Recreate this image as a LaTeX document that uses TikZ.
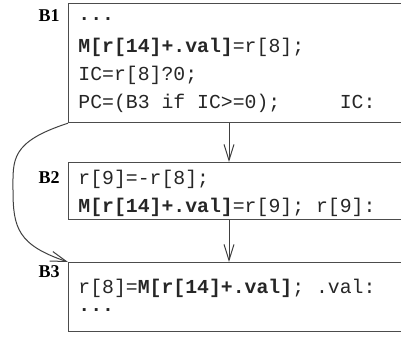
\documentclass[tikz,border=0pt]{standalone}
\usepackage{fontspec}
\setmainfont{Liberation Serif}
\setmonofont{Liberation Mono}
\usetikzlibrary{arrows.meta}
\begin{document}
\begin{tikzpicture}[x=0.5pt,y=-0.5pt,
  box/.style={draw=black!70, line width=0.6pt, inner sep=0pt, anchor=north west, minimum width=180pt},
  code/.style={font=\ttfamily\fontsize{9.9}{12}\selectfont, anchor=base west, inner sep=0pt, text=black!85},
  lbl/.style={font=\bfseries\fontsize{9}{10}\selectfont, anchor=base east, inner sep=0pt},
  flow/.style={draw=black!75, line width=0.5pt, -{Straight Barb[length=8pt,width=5pt]}}]
\clip (0,0) rectangle (401,339);
% boxes
\node[box, minimum height=59.5pt] (b1) at (68,3) {};
\node[box, minimum height=28.5pt] (b2) at (68,162) {};
\node[box, minimum height=34.5pt] (b3) at (68,262) {};
% labels
\node[lbl] (l1) at (60,21) {B1};
\node[lbl] (l2) at (60,183) {B2};
\node[lbl] (l3) at (60,277) {B3};
% B1 code
\node[code] (c11) at (78,20) {\textbf{...}};
\node[code] (c12) at (78,52) {\textbf{M[r[14]+.val]}=r[8];};
\node[code] (c13) at (78,80) {IC=r[8]?0;};
\node[code] (c14) at (78,108) {PC=(B3 if IC>=0);\ \ \ \ \ IC:};
% B2 code
\node[code] (c21) at (78,184) {r[9]=-r[8];};
\node[code] (c22) at (78,212) {\textbf{M[r[14]+.val]}=r[9]; r[9]:};
% B3 code
\node[code] (c31) at (78,293) {r[8]=\textbf{M[r[14]+.val]}; .val:};
\node[code] (c32) at (78,311) {\textbf{...}};
% connectors
\coordinate (xa) at (229,0);
\coordinate (mid) at (13,190);
\draw[flow] (b1.south -| xa) -- (b2.north -| xa);
\draw[flow] (b2.south -| xa) -- (b3.north -| xa);
\draw[flow] (b1.south west) .. controls (10,142) and (13,160) .. (mid)
  .. controls (13,228) and (18,245) .. (b3.north west);
\end{tikzpicture}
\end{document}
